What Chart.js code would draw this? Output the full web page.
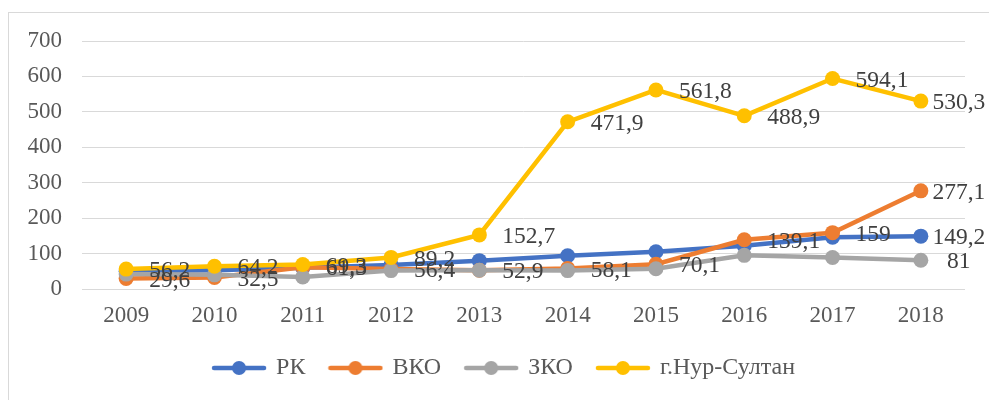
<!DOCTYPE html>
<html>
<head>
<meta charset="utf-8">
<script src="https://cdn.jsdelivr.net/npm/chart.js@4.4.1/dist/chart.umd.min.js"></script>
<style>
    html, body { margin: 0; padding: 0; background: #fff; }
    canvas { display: block; }
</style>
</head>
<body>
<canvas id="lineChart" width="989" height="400"></canvas>
<script>
// Datos del gráfico
const years = ['2009', '2010', '2011', '2012', '2013', '2014', '2015', '2016', '2017', '2018'];
const seriesNames = ['РК', 'ВКО', 'ЗКО', 'г.Нур-Султан'];
const rkValues = [50, 53, 60, 68, 80, 94, 105, 122, 146, 149.2];
const vkoValues = [29.6, 32.5, 61.3, 56.4, 52.9, 58.1, 70.1, 139.1, 159, 277.1];
const zkoValues = [42, 40, 34, 52, 53, 52, 57, 95, 89, 81];
const nurSultanValues = [56.2, 64.2, 69.3, 89.2, 152.7, 471.9, 561.8, 488.9, 594.1, 530.3];
const yTicks = [0, 100, 200, 300, 400, 500, 600, 700];

const colors = ['#4472C4', '#ED7D31', '#A5A5A5', '#FFC000'];
const serifFont = "'Liberation Serif', 'Times New Roman', serif";

Chart.defaults.font.family = serifFont;
Chart.defaults.font.size = 23;
Chart.defaults.color = '#595959';

// Icono de leyenda: línea con marcador
function legendIcon(color) {
    const c = document.createElement('canvas');
    c.width = 56;
    c.height = 16;
    const g = c.getContext('2d');
    g.strokeStyle = color;
    g.lineWidth = 4.5;
    g.lineCap = 'round';
    g.beginPath();
    g.moveTo(3, 8);
    g.lineTo(53, 8);
    g.stroke();
    g.fillStyle = color;
    g.beginPath();
    g.arc(28, 8, 7, 0, Math.PI * 2);
    g.fill();
    return c;
}
const icons = colors.map(legendIcon);

// Marco y fondo
const framePlugin = {
    id: 'frame',
    beforeDraw(chart) {
        const ctx = chart.ctx;
        ctx.save();
        ctx.fillStyle = '#fff';
        ctx.fillRect(0, 0, chart.width, chart.height);
        ctx.strokeStyle = '#d9d9d9';
        ctx.lineWidth = 1;
        ctx.strokeRect(8.5, 12.5, chart.width + 20, chart.height + 20);
        ctx.restore();
    }
};

// Desplazar la leyenda un poco a la derecha, como en el original
const legendShift = {
    id: 'legendShift',
    afterLayout(chart) {
        if (chart.legend) {
            chart.legend.left += 22;
            chart.legend.right += 22;
        }
    }
};

// Etiquetas de valores (ВКО y Нур-Султан en todos los puntos, el resto solo al final)
const labelledAll = [false, true, false, true];
const valueLabels = {
    id: 'valueLabels',
    afterDatasetsDraw(chart) {
        const ctx = chart.ctx;
        ctx.save();
        ctx.font = '23.5px ' + serifFont;
        ctx.fillStyle = '#404040';
        ctx.textBaseline = 'middle';
        chart.data.datasets.forEach((ds, di) => {
            const meta = chart.getDatasetMeta(di);
            ds.data.forEach((v, i) => {
                const last = i === ds.data.length - 1;
                if (!labelledAll[di] && !last) return;
                const pt = meta.data[i];
                const text = String(v).replace('.', ',');
                if (last) {
                    ctx.textAlign = 'center';
                    ctx.fillText(text, pt.x + 38, pt.y + 2);
                } else {
                    ctx.textAlign = 'left';
                    ctx.fillText(text, pt.x + 23, pt.y + 2);
                }
            });
        });
        ctx.restore();
    }
};

const allValues = [rkValues, vkoValues, zkoValues, nurSultanValues];
const datasets = seriesNames.map((name, i) => ({
    label: name,
    data: allValues[i],
    borderColor: colors[i],
    backgroundColor: colors[i],
    pointBackgroundColor: colors[i],
    pointBorderColor: colors[i],
    borderWidth: 4.5,
    pointRadius: 7.5,
    pointBorderWidth: 0,
    tension: 0,
    order: 4 - i
}));

const ctx = document.getElementById('lineChart').getContext('2d');
new Chart(ctx, {
    type: 'line',
    data: { labels: years, datasets: datasets },
    options: {
        responsive: false,
        animation: false,
        devicePixelRatio: 1,
        layout: { padding: { top: 41, right: 24, left: 0, bottom: 10 } },
        plugins: {
            tooltip: { enabled: false },
            legend: {
                position: 'bottom',
                labels: {
                    usePointStyle: true,
                    pointStyleWidth: 50,
                    boxHeight: 16,
                    padding: 25,
                    color: '#595959',
                    font: { size: 24 },
                    sort: (a, b) => a.datasetIndex - b.datasetIndex,
                    generateLabels(chart) {
                        const items = Chart.defaults.plugins.legend.labels.generateLabels(chart);
                        items.forEach(it => { it.pointStyle = icons[it.datasetIndex]; });
                        return items;
                    }
                }
            }
        },
        scales: {
            x: {
                offset: true,
                grid: { display: false },
                border: { display: false },
                ticks: { padding: 5, color: '#595959' },
                afterFit(scale) { scale.height = 42; }
            },
            y: {
                min: 0,
                max: 700,
                afterBuildTicks(scale) { scale.ticks = yTicks.map(v => ({ value: v })); },
                grid: { color: '#d9d9d9', lineWidth: 1, drawTicks: false },
                border: { display: false },
                ticks: { padding: 20, color: '#595959' },
                afterFit(scale) { scale.width = 82; }
            }
        }
    },
    plugins: [framePlugin, legendShift, valueLabels]
});
</script>
</body>
</html>
